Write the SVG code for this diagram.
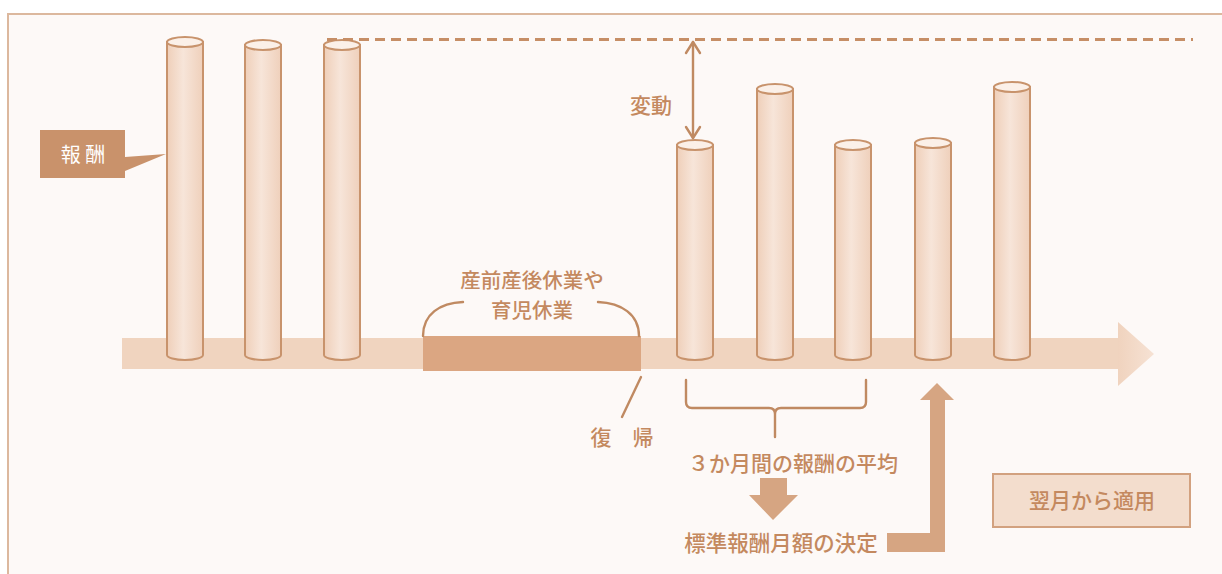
<svg xmlns="http://www.w3.org/2000/svg" width="1222" height="574" viewBox="0 0 1222 574">
<defs>
<linearGradient id="cyl" x1="0" y1="0" x2="1" y2="0">
<stop offset="0" stop-color="#efcfb9"/>
<stop offset="0.45" stop-color="#f7e5d9"/>
<stop offset="1" stop-color="#efd0bb"/>
</linearGradient>
<linearGradient id="head" x1="0" y1="0" x2="1" y2="0">
<stop offset="0" stop-color="#f0d3be"/>
<stop offset="1" stop-color="#f6e2d4"/>
</linearGradient>
</defs>
<style>
.t{font-family:"Noto Sans CJK JP","Noto Sans",sans-serif;fill:#c4895f;font-weight:500;}
.cb{fill:url(#cyl);stroke:#c8936c;stroke-width:2;}
.ct{fill:#fbf0e8;stroke:#c8936c;stroke-width:2;}
.ln{fill:none;stroke:#c08a62;stroke-width:2.4;stroke-linecap:round;stroke-linejoin:round;}
</style>
<rect x="0" y="0" width="1222" height="574" fill="#ffffff"/>
<rect x="8" y="14" width="1230" height="580" fill="#fdf9f7" stroke="#dcb89e" stroke-width="2"/>

<g id="timeline">
<rect x="122" y="338" width="998" height="31" fill="#f0d4bf"/>
<polygon points="1118,322 1154,354 1118,386" fill="url(#head)"/>
<rect x="423" y="336" width="218" height="35" fill="#dba682"/>
</g>

<g id="cylinders">
<g id="c1"><path class="cb" d="M167 42 V355 A18 5 0 0 0 203 355 V42 Z"/><ellipse class="ct" cx="185" cy="42" rx="18" ry="5"/></g>
<g id="c2"><path class="cb" d="M245 45 V355 A18 5 0 0 0 281 355 V45 Z"/><ellipse class="ct" cx="263" cy="45" rx="18" ry="5"/></g>
<g id="c3"><path class="cb" d="M324 45 V355 A18 5 0 0 0 360 355 V45 Z"/><ellipse class="ct" cx="342" cy="45" rx="18" ry="5"/></g>
<g id="c4"><path class="cb" d="M677 145 V355 A18 5 0 0 0 713 355 V145 Z"/><ellipse class="ct" cx="695" cy="145" rx="18" ry="5"/></g>
<g id="c5"><path class="cb" d="M757 89 V355 A18 5 0 0 0 793 355 V89 Z"/><ellipse class="ct" cx="775" cy="89" rx="18" ry="5"/></g>
<g id="c6"><path class="cb" d="M835 145 V355 A18 5 0 0 0 871 355 V145 Z"/><ellipse class="ct" cx="853" cy="145" rx="18" ry="5"/></g>
<g id="c7"><path class="cb" d="M915 143 V355 A18 5 0 0 0 951 355 V143 Z"/><ellipse class="ct" cx="933" cy="143" rx="18" ry="5"/></g>
<g id="c8"><path class="cb" d="M994 87 V355 A18 5 0 0 0 1030 355 V87 Z"/><ellipse class="ct" cx="1012" cy="87" rx="18" ry="5"/></g>
</g>

<g id="connectors">
<line x1="327" y1="39.5" x2="1193" y2="39.5" stroke="#c68e66" stroke-width="3.2" stroke-dasharray="10 6"/>
<line class="ln" x1="693" y1="42" x2="693" y2="138"/>
<path class="ln" d="M686 53 L693 42 L700 53 M686 127 L693 138 L700 127"/>
<path class="ln" d="M423 336 C423 314 440 303 463 302"/>
<path class="ln" d="M598 302 C621 303 639 314 639 336"/>
<line class="ln" x1="641" y1="377" x2="622" y2="417"/>
<path class="ln" d="M686 380 V402 Q686 408 692 408 H769 Q775 408 775 414 V437 M775 414 Q775 408 781 408 H860 Q866 408 866 402 V380"/>
<polygon points="760,478 787,478 787,495 798,495 773,520 749,495 760,495" fill="#d6a582"/>
<polygon points="887,533 930,533 930,400 920,400 937,383 954,400 945,400 945,552 887,552" fill="#d6a582"/>
</g>

<g id="label-houshu">
<path d="M40 130 H125 V157 L166 154 L125 171 V178 H40 Z" fill="#c9926b"/>
<text x="83" y="162" text-anchor="middle" font-size="20" font-family="&quot;Noto Sans CJK JP&quot;,sans-serif" fill="#ffffff" xml:space="preserve">報 酬</text>
</g>

<g id="label-hendou"><text class="t" x="651" y="113" text-anchor="middle" font-size="21">変動</text></g>

<g id="label-kyugyo">
<text class="t" x="532" y="288" text-anchor="middle" font-size="20.5">産前産後休業や</text>
<text class="t" x="532" y="318" text-anchor="middle" font-size="20.5">育児休業</text>
</g>

<g id="label-fukki"><text class="t" x="622" y="445" text-anchor="middle" font-size="21" xml:space="preserve">復　帰</text></g>

<g id="label-heikin"><text class="t" x="793" y="471" text-anchor="middle" font-size="21">３か月間の報酬の平均</text></g>

<g id="label-kettei"><text class="t" x="781" y="551" text-anchor="middle" font-size="21.5">標準報酬月額の決定</text></g>

<g id="box-tekiyou">
<rect x="993" y="474" width="197" height="53" fill="#f3ddcd" stroke="#d2a17f" stroke-width="2"/>
<text class="t" x="1092" y="508" text-anchor="middle" font-size="21">翌月から適用</text>
</g>
</svg>
